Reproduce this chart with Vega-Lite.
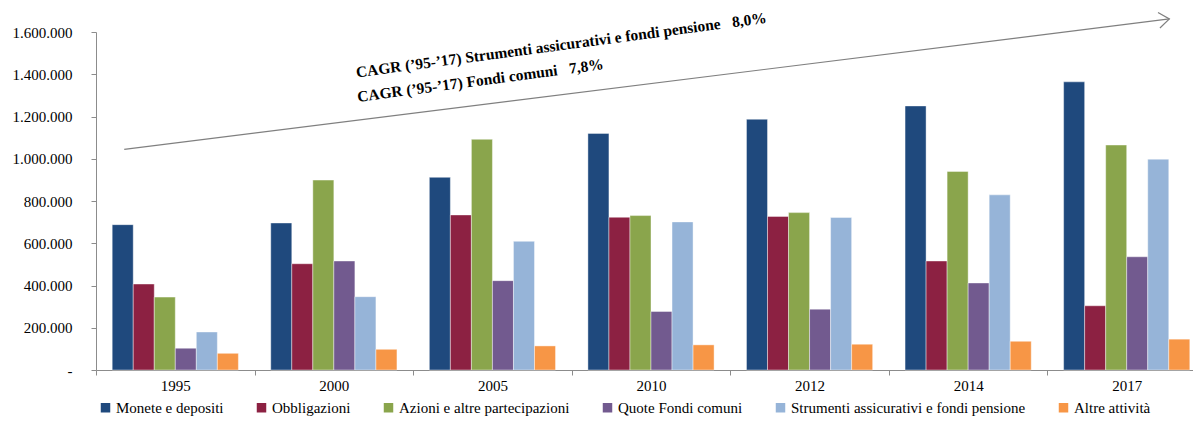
{
  "$schema": "https://vega.github.io/schema/vega-lite/v6.json",
  "autosize": "none",
  "width": 1097,
  "height": 338,
  "padding": {"left": 96, "top": 32, "right": 0, "bottom": 58},
  "background": "#ffffff",
  "config": {
    "locale": {"number": {"decimal": ",", "thousands": ".", "grouping": [3], "currency": ["€", ""]}},
    "view": {"stroke": null},
    "font": "Liberation Serif",
    "axis": {"labelFont": "Liberation Serif"}
  },
  "datasets": {
    "bars": [
      {"anno": "1995", "serie": "Monete e depositi", "valore": 688000},
      {"anno": "1995", "serie": "Obbligazioni", "valore": 407000},
      {"anno": "1995", "serie": "Azioni e altre partecipazioni", "valore": 345000},
      {"anno": "1995", "serie": "Quote Fondi comuni", "valore": 103000},
      {"anno": "1995", "serie": "Strumenti assicurativi e fondi pensione", "valore": 180000},
      {"anno": "1995", "serie": "Altre attività", "valore": 79000},
      {"anno": "2000", "serie": "Monete e depositi", "valore": 696000},
      {"anno": "2000", "serie": "Obbligazioni", "valore": 503000},
      {"anno": "2000", "serie": "Azioni e altre partecipazioni", "valore": 899000},
      {"anno": "2000", "serie": "Quote Fondi comuni", "valore": 516000},
      {"anno": "2000", "serie": "Strumenti assicurativi e fondi pensione", "valore": 347000},
      {"anno": "2000", "serie": "Altre attività", "valore": 98000},
      {"anno": "2005", "serie": "Monete e depositi", "valore": 912000},
      {"anno": "2005", "serie": "Obbligazioni", "valore": 734000},
      {"anno": "2005", "serie": "Azioni e altre partecipazioni", "valore": 1092000},
      {"anno": "2005", "serie": "Quote Fondi comuni", "valore": 423000},
      {"anno": "2005", "serie": "Strumenti assicurativi e fondi pensione", "valore": 609000},
      {"anno": "2005", "serie": "Altre attività", "valore": 114000},
      {"anno": "2010", "serie": "Monete e depositi", "valore": 1120000},
      {"anno": "2010", "serie": "Obbligazioni", "valore": 723000},
      {"anno": "2010", "serie": "Azioni e altre partecipazioni", "valore": 731000},
      {"anno": "2010", "serie": "Quote Fondi comuni", "valore": 277000},
      {"anno": "2010", "serie": "Strumenti assicurativi e fondi pensione", "valore": 701000},
      {"anno": "2010", "serie": "Altre attività", "valore": 119000},
      {"anno": "2012", "serie": "Monete e depositi", "valore": 1187000},
      {"anno": "2012", "serie": "Obbligazioni", "valore": 727000},
      {"anno": "2012", "serie": "Azioni e altre partecipazioni", "valore": 745000},
      {"anno": "2012", "serie": "Quote Fondi comuni", "valore": 288000},
      {"anno": "2012", "serie": "Strumenti assicurativi e fondi pensione", "valore": 722000},
      {"anno": "2012", "serie": "Altre attività", "valore": 122000},
      {"anno": "2014", "serie": "Monete e depositi", "valore": 1250000},
      {"anno": "2014", "serie": "Obbligazioni", "valore": 516000},
      {"anno": "2014", "serie": "Azioni e altre partecipazioni", "valore": 940000},
      {"anno": "2014", "serie": "Quote Fondi comuni", "valore": 412000},
      {"anno": "2014", "serie": "Strumenti assicurativi e fondi pensione", "valore": 829000},
      {"anno": "2014", "serie": "Altre attività", "valore": 136000},
      {"anno": "2017", "serie": "Monete e depositi", "valore": 1364000},
      {"anno": "2017", "serie": "Obbligazioni", "valore": 304000},
      {"anno": "2017", "serie": "Azioni e altre partecipazioni", "valore": 1065000},
      {"anno": "2017", "serie": "Quote Fondi comuni", "valore": 536000},
      {"anno": "2017", "serie": "Strumenti assicurativi e fondi pensione", "valore": 998000},
      {"anno": "2017", "serie": "Altre attività", "valore": 146000}
    ],
    "freccia": [{"gx": 0.178, "gy": 1044600, "gx2": 6.769, "gy2": 1661800}],
    "punta": [{"gx": 6.769, "gy": 1661800}],
    "note": [
      {"gx": 1.644, "gy": 1385000, "testo": "CAGR (’95-’17) Strumenti assicurativi e fondi pensione\u00a0\u00a0\u00a08,0%"},
      {"gx": 1.652, "gy": 1269000, "testo": "CAGR (’95-’17) Fondi comuni\u00a0\u00a0\u00a07,8%"}
    ]
  },
  "layer": [
    {
      "data": {"name": "bars"},
      "mark": {"type": "bar", "stroke": "#ffffff", "strokeWidth": 0.7, "strokeOpacity": 0.6},
      "encoding": {
        "x": {
          "field": "anno", "type": "nominal", "sort": null,
          "scale": {"range": [0, 1110], "paddingInner": 0, "paddingOuter": 0},
          "axis": {"title": null, "labelAngle": 0, "tickBand": "extent", "labelFontSize": 15, "labelColor": "#000000", "labelFont": "Liberation Serif", "domainColor": "#8c8c8c", "tickColor": "#8c8c8c", "tickSize": 5, "labelPadding": 3, "grid": false}
        },
        "xOffset": {
          "field": "serie", "type": "nominal",
          "sort": ["Monete e depositi", "Obbligazioni", "Azioni e altre partecipazioni", "Quote Fondi comuni", "Strumenti assicurativi e fondi pensione", "Altre attività"],
          "scale": {"paddingInner": 0, "paddingOuter": 0.77}
        },
        "y": {
          "field": "valore", "type": "quantitative",
          "scale": {"domain": [0, 1600000], "nice": false, "zero": true},
          "axis": {"title": null, "values": [0, 200000, 400000, 600000, 800000, 1000000, 1200000, 1400000, 1600000], "format": ",.0f", "labelExpr": "datum.value === 0 ? '-\u00a0\u00a0' : datum.label", "labelFontSize": 15, "labelColor": "#000000", "labelFont": "Liberation Serif", "domainColor": "#8c8c8c", "tickColor": "#8c8c8c", "tickSize": 5, "labelPadding": 19, "grid": false}
        },
        "color": {
          "field": "serie", "type": "nominal",
          "scale": {
            "domain": ["Monete e depositi", "Obbligazioni", "Azioni e altre partecipazioni", "Quote Fondi comuni", "Strumenti assicurativi e fondi pensione", "Altre attività"],
            "range": ["#1f497d", "#8c2142", "#8aa54c", "#725a8f", "#96b4d8", "#f79646"]
          },
          "legend": {"orient": "none", "legendX": 2, "legendY": 368, "direction": "horizontal", "columns": 6, "title": null, "symbolType": "square", "symbolSize": 90, "symbolStrokeWidth": 0, "labelFontSize": 15, "labelFont": "Liberation Serif", "labelColor": "#000000", "columnPadding": 30, "labelOffset": 3, "padding": 0, "labelLimit": 400}
        }
      }
    },
    {
      "data": {"name": "freccia"},
      "mark": {"type": "rule", "color": "#7f7f7f", "strokeWidth": 1.2},
      "encoding": {
        "x": {"field": "gx", "type": "quantitative", "scale": {"domain": [0, 7], "range": [0, 1110], "nice": false, "zero": false}, "axis": null},
        "x2": {"field": "gx2"},
        "y": {"field": "gy", "type": "quantitative", "scale": {"domain": [0, 1600000], "nice": false}, "axis": null},
        "y2": {"field": "gy2"}
      }
    },
    {
      "data": {"name": "punta"},
      "mark": {"type": "point", "shape": "M-1,-0.75L0,0L-1,0.75", "filled": false, "stroke": "#7f7f7f", "strokeWidth": 1.2, "size": 440, "angle": -7.1, "opacity": 1},
      "encoding": {
        "x": {"field": "gx", "type": "quantitative", "scale": {"domain": [0, 7], "range": [0, 1110], "nice": false, "zero": false}, "axis": null},
        "y": {"field": "gy", "type": "quantitative", "scale": {"domain": [0, 1600000], "nice": false}, "axis": null}
      }
    },
    {
      "data": {"name": "note"},
      "mark": {"type": "text", "font": "Liberation Serif", "fontWeight": "bold", "fontSize": 15.5, "angle": -7.6, "align": "left", "baseline": "alphabetic", "color": "#000000"},
      "encoding": {
        "x": {"field": "gx", "type": "quantitative", "scale": {"domain": [0, 7], "range": [0, 1110], "nice": false, "zero": false}, "axis": null},
        "y": {"field": "gy", "type": "quantitative", "scale": {"domain": [0, 1600000], "nice": false}, "axis": null},
        "text": {"field": "testo"}
      }
    }
  ],
  "resolve": {"scale": {"x": "independent"}, "axis": {"y": "independent"}}
}
